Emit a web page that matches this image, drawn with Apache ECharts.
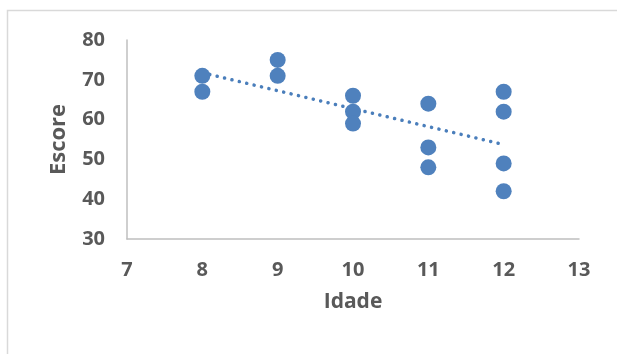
<!DOCTYPE html>
<html>
<head>
<meta charset="utf-8">
<script src="https://cdn.jsdelivr.net/npm/echarts@6/dist/echarts.min.js"></script>
<style>
  html, body { margin: 0; padding: 0; background: #fff; }
  #chart { width: 617px; height: 354px; }
</style>
</head>
<body>
<div id="chart"></div>
<script>
// Age (Idade) and score (Escore) observations
const idade  = [8, 8, 9, 9, 10, 10, 10, 11, 11, 11, 12, 12, 12, 12];
const escore = [71, 67, 75, 71, 66, 62, 59, 64, 53, 48, 67, 62, 49, 42];

// Axis ranges and tick labels
const xTicks = [7, 8, 9, 10, 11, 12, 13];
const yTicks = [30, 40, 50, 60, 70, 80];

// Least-squares linear trend over the observations
const n = idade.length;
const mx = idade.reduce((a, b) => a + b, 0) / n;
const my = escore.reduce((a, b) => a + b, 0) / n;
let sxy = 0, sxx = 0;
for (let i = 0; i < n; i++) {
  sxy += (idade[i] - mx) * (escore[i] - my);
  sxx += (idade[i] - mx) * (idade[i] - mx);
}
const slope = sxy / sxx;
const intercept = my - slope * mx;
const xMin = Math.min(...idade), xMax = Math.max(...idade);
const trend = [[xMin, intercept + slope * xMin], [xMax, intercept + slope * xMax]];

const points = idade.map((x, i) => [x, escore[i]]);

const textColor = '#595959';
const fontFamily = '"Open Sans", sans-serif';

const chart = echarts.init(document.getElementById('chart'), null, { renderer: 'canvas' });
chart.setOption({
  animation: false,
  backgroundColor: '#ffffff',
  graphic: [{
    type: 'rect',
    shape: { x: 7.5, y: 10.5, width: 700, height: 400 },
    style: { fill: 'none', stroke: '#d9d9d9', lineWidth: 1.5 },
    silent: true,
    z: -1
  }],
  grid: { left: 127, right: 38, top: 40, bottom: 115, containLabel: false },
  xAxis: {
    type: 'value',
    min: xTicks[0],
    max: xTicks[xTicks.length - 1],
    interval: 1,
    name: 'Idade',
    nameLocation: 'middle',
    nameGap: 53,
    nameTextStyle: { color: textColor, fontSize: 21, fontWeight: 'bold', fontFamily },
    axisLine: { show: true, lineStyle: { color: '#bfbfbf', width: 1.5 } },
    axisTick: { show: false },
    splitLine: { show: false },
    axisLabel: { color: textColor, fontSize: 20, fontWeight: 'bold', fontFamily, margin: 21 }
  },
  yAxis: {
    type: 'value',
    min: yTicks[0],
    max: yTicks[yTicks.length - 1],
    interval: 10,
    name: 'Escore',
    nameLocation: 'middle',
    nameGap: 57,
    nameRotate: 90,
    nameTextStyle: { color: textColor, fontSize: 22, fontWeight: 'bold', fontFamily },
    axisLine: { show: true, lineStyle: { color: '#bfbfbf', width: 1.5 } },
    axisTick: { show: false },
    splitLine: { show: false },
    axisLabel: { color: textColor, fontSize: 20, fontWeight: 'bold', fontFamily, margin: 22 }
  },
  series: [
    {
      type: 'line',
      data: trend,
      symbol: 'none',
      lineStyle: { color: '#4a7ebb', width: 3.5, type: [0.1, 7.5], cap: 'round' },
      z: 2
    },
    {
      type: 'scatter',
      data: points,
      symbol: 'circle',
      symbolSize: 16,
      itemStyle: { color: '#4f81bd', opacity: 1 },
      z: 3
    }
  ]
});
</script>
</body>
</html>
